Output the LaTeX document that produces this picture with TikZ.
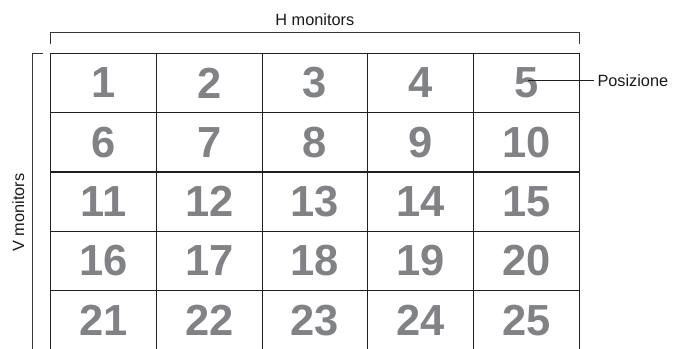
\documentclass[tikz,border=0pt]{standalone}
\usepackage{fontspec}
\setmainfont{Liberation Sans}[BoldFont={Liberation Sans Bold}]
\definecolor{numgray}{RGB}{128,130,133}
\definecolor{linedark}{RGB}{35,31,32}
\begin{document}
\begin{tikzpicture}[x=1pt,y=-1pt,
  cell/.style={draw=linedark,line width=1pt,minimum width=105.7pt,minimum height=59.3pt,inner sep=0pt,
    text=numgray,font=\fontsize{43.5}{43.5}\selectfont\bfseries},
  label/.style={inner sep=0pt,font=\fontsize{16.3}{16.3}\selectfont,text=black!90},
  bracket/.style={draw=linedark!90,line width=0.9pt}]
\clip (0,0) rectangle (676,348);
\useasboundingbox (0,0) rectangle (676,348);
\foreach \r in {0,...,4}{
  \foreach \c in {1,...,5}{
    \pgfmathtruncatemacro{\n}{\r*5+\c}
    \node[cell] (c\n) at ({50.7+(\c-0.5)*105.72},{53.3+(\r+0.5)*59.34}) {\n};
  }
}
\node[label,anchor=base] (hmon) at (314.8,25) {H monitors};
\node[label,anchor=base,rotate=90] (vmon) at (24,212.5) {V monitors};
\node[label,anchor=base west] (pos) at (597.3,86.7) {Posizione};
\draw[bracket] (50.7,44) -- (50.7,32.7) -- (579.3,32.7) -- (579.3,44);
\draw[bracket] (43.3,53.3) -- (32.3,53.3) -- (32.3,352);
\draw[linedark,line width=0.9pt] ([xshift=2pt]c5.center |- pos.west) -- ([xshift=-3pt]pos.west);
\end{tikzpicture}
\end{document}
